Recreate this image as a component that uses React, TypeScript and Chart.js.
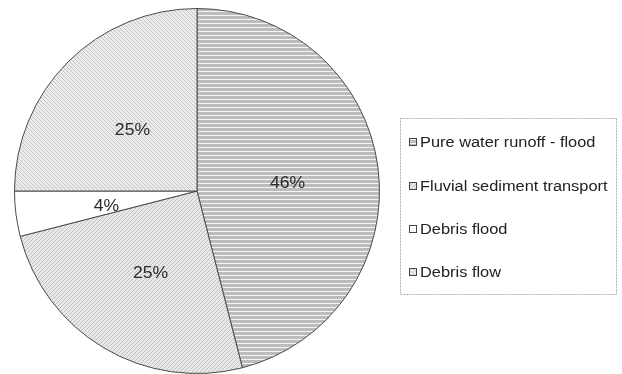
import React, { useEffect, useRef } from "react";
import { Chart, registerables } from "chart.js";

Chart.register(...registerables);

const categories = [
  "Pure water runoff - flood",
  "Fluvial sediment transport",
  "Debris flood",
  "Debris flow",
];
const shares = [46, 25, 4, 25];
const percentLabels = ["46%", "25%", "4%", "25%"];

type PatternKind = "horizontal" | "slash" | "plain" | "backslash";
const patternKinds: PatternKind[] = ["horizontal", "slash", "plain", "backslash"];

function makePattern(kind: PatternKind): CanvasPattern | string {
  if (kind === "plain") return "#ffffff";
  const c = document.createElement("canvas");
  const ctx = c.getContext("2d")!;
  c.width = 4;
  c.height = 4;
  if (kind === "horizontal") {
    ctx.fillStyle = "#bcbcbc";
    ctx.fillRect(0, 0, 4, 4);
    ctx.fillStyle = "#f4f4f4";
    ctx.fillRect(0, 3, 4, 1);
  } else {
    ctx.fillStyle = kind === "slash" ? "#e8e8e8" : "#ebebeb";
    ctx.fillRect(0, 0, 4, 4);
    ctx.fillStyle = kind === "slash" ? "#c2c2c2" : "#c6c6c6";
    for (let i = 0; i < 4; i++) {
      const x = kind === "slash" ? 3 - i : i;
      ctx.fillRect(x, i, 1, 1);
    }
  }
  return ctx.createPattern(c, "repeat")!;
}

// Draws the percentage inside each slice, halfway out along its mid angle.
const sliceLabels = {
  id: "sliceLabels",
  afterDatasetsDraw(chart: any) {
    const { ctx } = chart;
    const meta = chart.getDatasetMeta(0);
    ctx.save();
    ctx.font = "16px 'Liberation Sans', Arial, sans-serif";
    ctx.fillStyle = "#2a2a2a";
    ctx.textAlign = "center";
    ctx.textBaseline = "middle";
    meta.data.forEach((arc: any, i: number) => {
      const mid = (arc.startAngle + arc.endAngle) / 2;
      const r = arc.outerRadius * 0.5;
      const x = arc.x + Math.cos(mid) * r;
      const y = arc.y + Math.sin(mid) * r + 4;
      ctx.save();
      ctx.translate(x, y);
      ctx.scale(1.1, 1);
      ctx.fillText(percentLabels[i], 0, 0);
      ctx.restore();
    });
    ctx.restore();
  },
};

// Boxed legend on the right with patterned swatches.
const boxLegend = {
  id: "boxLegend",
  afterDraw(chart: any) {
    const { ctx } = chart;
    const fills = chart.data.datasets[0].backgroundColor as any[];
    const box = { x: 400.5, y: 118.5, w: 216, h: 176 };
    ctx.save();
    ctx.strokeStyle = "#b0b0b0";
    ctx.lineWidth = 1;
    ctx.setLineDash([2, 1]);
    ctx.strokeRect(box.x, box.y, box.w, box.h);
    ctx.setLineDash([]);
    const rows = [142, 186, 229, 272];
    ctx.font = "14px 'Liberation Sans', Arial, sans-serif";
    ctx.textBaseline = "middle";
    ctx.textAlign = "left";
    chart.data.labels.forEach((label: string, i: number) => {
      const y = rows[i];
      ctx.fillStyle = fills[i];
      ctx.fillRect(409, y - 4, 8, 8);
      ctx.strokeStyle = "#444";
      ctx.strokeRect(409.5, y - 3.5, 7, 7);
      ctx.fillStyle = "#222";
      ctx.save();
      ctx.translate(420, y + 1);
      ctx.scale(1.17, 1);
      ctx.fillText(label, 0, 0);
      ctx.restore();
    });
    ctx.restore();
  },
};

export default function App() {
  const ref = useRef<HTMLCanvasElement>(null);

  useEffect(() => {
    if (!ref.current) return;
    const fills = patternKinds.map(makePattern);
    const chart = new Chart(ref.current, {
      type: "pie",
      data: {
        labels: categories,
        datasets: [
          {
            data: shares,
            backgroundColor: fills as any,
            borderColor: "#4a4a4a",
            borderWidth: 1,
          },
        ],
      },
      options: {
        responsive: false,
        animation: false,
        devicePixelRatio: 1,
        layout: { padding: { left: 14, right: 242, top: 8, bottom: 0 } },
        plugins: {
          legend: { display: false },
          tooltip: { enabled: false },
        },
      },
      plugins: [sliceLabels, boxLegend],
    });
    return () => chart.destroy();
  }, []);

  return (
    <div style={{ position: "absolute", left: 0, top: 0, width: 622, height: 374, background: "#fff" }}>
      <canvas ref={ref} width={622} height={374} />
    </div>
  );
}
